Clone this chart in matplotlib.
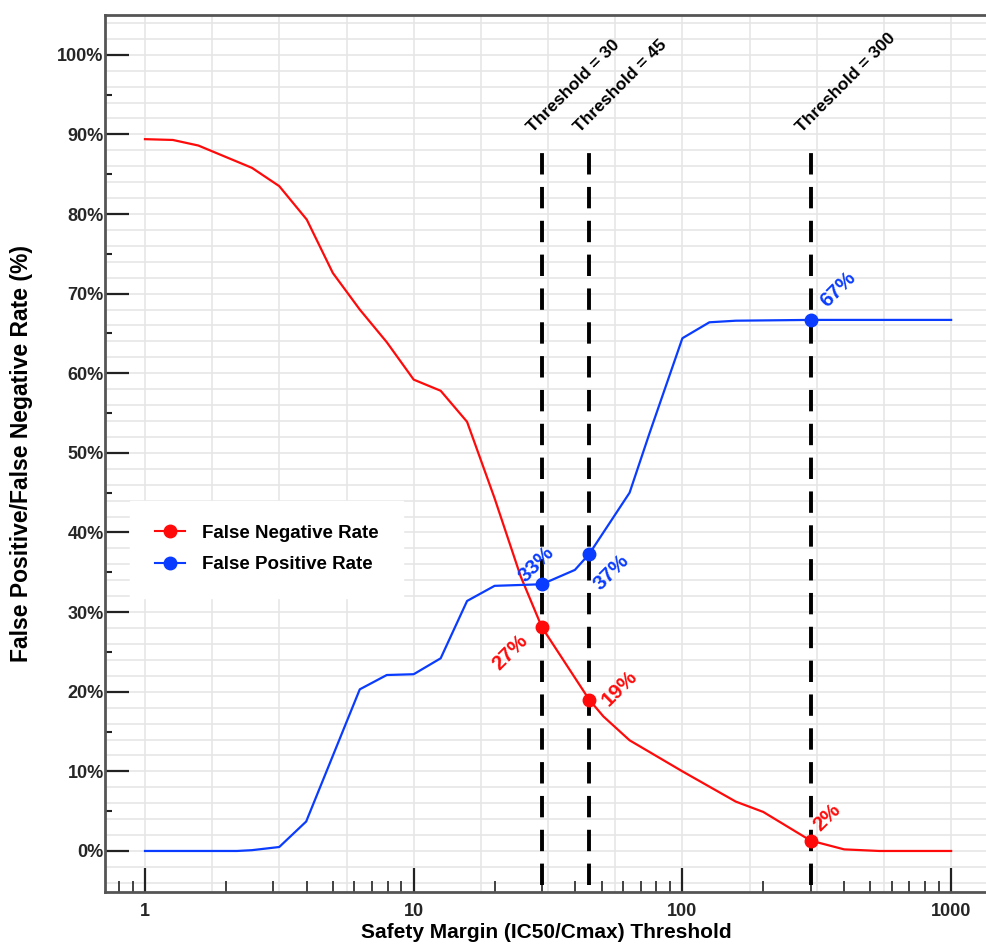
import numpy as np
import matplotlib
matplotlib.use("Agg")
import matplotlib.pyplot as plt
from matplotlib.lines import Line2D
from matplotlib.ticker import FixedLocator, NullFormatter

plt.rcParams['font.family'] = ['Liberation Sans', 'DejaVu Sans']

# 阈值 (safety margin) 与两条曲线
fnr_x = [1, 1.27, 1.58, 2.5, 3.16, 4, 5, 6.3, 7.94, 10, 12.6, 15.8, 20, 25, 30,
         45, 50.8, 63.6, 100, 158, 200, 300, 400, 540, 1000]
fnr_y = [89.4, 89.3, 88.6, 85.8, 83.5, 79.3, 72.6, 68.0, 63.9, 59.2, 57.8, 53.9,
         44.3, 34.5, 28.1, 19.0, 16.9, 13.9, 10.0, 6.2, 4.9, 1.3, 0.2, 0.0, 0.0]

fpr_x = [1, 2.2, 2.5, 3.16, 3.98, 6.3, 7.94, 10, 12.6, 15.8, 20, 30, 39.8, 45,
         63.6, 75.5, 100, 126, 158, 300, 1000]
fpr_y = [0, 0, 0.1, 0.5, 3.7, 20.3, 22.1, 22.2, 24.2, 31.4, 33.3, 33.5, 35.3,
         37.3, 45.0, 52.5, 64.4, 66.4, 66.6, 66.7, 66.7]

thresholds = [30, 45, 300]
fnr_at = [28.1, 19.0, 1.3]
fpr_at = [33.5, 37.3, 66.7]
fnr_txt = ['27%', '19%', '2%']
fpr_txt = ['33%', '37%', '67%']

yticks = [0, 10, 20, 30, 40, 50, 60, 70, 80, 90, 100]
xticks = [1, 10, 100, 1000]

RED = '#ff0a0a'
BLUE = '#0a3cff'

fig = plt.figure(figsize=(9.87, 9.47), dpi=100)
ax = fig.add_axes([0.1064, 0.0581, 0.8936, 0.9261])
ax.set_xscale('log')
ax.set_xlim(0.71, 1360)
ax.set_ylim(-5.15, 105)

# 网格 (对数四分之一十倍 / 每2%)
for k in range(0, 13):
    ax.axvline(10 ** (k / 4), color='#e6e6e6', lw=1.2, zorder=0)
for v in np.arange(-4, 105, 2):
    ax.axhline(v, color='#e6e6e6', lw=1.2, zorder=0)

ax.plot(fnr_x, fnr_y, color=RED, lw=1.6, zorder=3)
ax.plot(fpr_x, fpr_y, color=BLUE, lw=1.6, zorder=3)

for t in thresholds:
    ax.plot([t, t], [-4.3, 87.8], color='black', lw=2.8, ls=(0, (5.5, 3.2)), zorder=2)
    ax.annotate('Threshold = %d' % t, xy=(t, 89.9), xytext=(-5, 0),
                textcoords='offset points', rotation=45, rotation_mode='anchor',
                ha='left', va='bottom', fontsize=12.5, fontweight='bold')

ax.plot(thresholds, fnr_at, 'o', color=RED, ms=9, zorder=4)
ax.plot(thresholds, fpr_at, 'o', color=BLUE, ms=9, zorder=4)

# 百分比标注
fnr_off = [(-23, -18), (22, 8), (12, 17)]
fpr_off = [(-4, 14), (16, -13), (20, 22)]
for t, v, s, o in zip(thresholds, fnr_at, fnr_txt, fnr_off):
    ax.annotate(s, xy=(t, v), xytext=o, textcoords='offset points', rotation=45,
                ha='center', va='center', fontsize=15, fontweight='bold', color=RED)
for t, v, s, o in zip(thresholds, fpr_at, fpr_txt, fpr_off):
    ax.annotate(s, xy=(t, v), xytext=o, textcoords='offset points', rotation=45,
                ha='center', va='center', fontsize=15, fontweight='bold', color=BLUE)

# 坐标轴
ax.set_yticks(yticks)
ax.set_yticklabels(['%d%%' % v for v in yticks])
ax.yaxis.set_minor_locator(FixedLocator(np.arange(5, 100, 10)))
ax.set_xticks(xticks)
ax.set_xticklabels([str(v) for v in xticks])
minors = [m * 10 ** e for e in range(-1, 4) for m in range(2, 10)]
ax.xaxis.set_minor_locator(FixedLocator(minors))
ax.xaxis.set_minor_formatter(NullFormatter())

ax.tick_params(axis='both', which='major', direction='in', length=17, width=1.6,
               color='#222222', labelsize=13, labelcolor='#262626')
ax.tick_params(axis='y', which='major', pad=1)
ax.tick_params(axis='x', which='major', pad=8)
ax.tick_params(axis='y', which='minor', direction='in', length=5, width=1.5, color='#222222')
ax.tick_params(axis='x', which='minor', direction='in', length=8, width=1.2, color='#222222')
for lab in ax.get_xticklabels() + ax.get_yticklabels():
    lab.set_fontweight('bold')

for side in ['left', 'bottom', 'top']:
    ax.spines[side].set_color('#555555')
    ax.spines[side].set_linewidth(2)
ax.spines['right'].set_visible(False)

ax.set_xlabel('Safety Margin (IC50/Cmax) Threshold', fontsize=15, fontweight='bold', labelpad=2)
ax.set_ylabel('False Positive/False Negative Rate (%)', fontsize=16.5, fontweight='bold')
ax.yaxis.set_label_coords(-0.082, 0.5)

handles = [Line2D([], [], color=RED, marker='o', ms=9, lw=1.5, label='False Negative Rate'),
           Line2D([], [], color=BLUE, marker='o', ms=9, lw=1.5, label='False Positive Rate')]
leg = ax.legend(handles=handles, loc='upper left', bbox_to_anchor=(0.018, 0.457),
                frameon=True, fancybox=False, edgecolor='white', facecolor='white',
                framealpha=1, handlelength=1.6, borderpad=1.3, labelspacing=0.75,
                handletextpad=0.9, prop={'weight': 'bold', 'size': 13.5})

fig.savefig('out.png', dpi=100)
